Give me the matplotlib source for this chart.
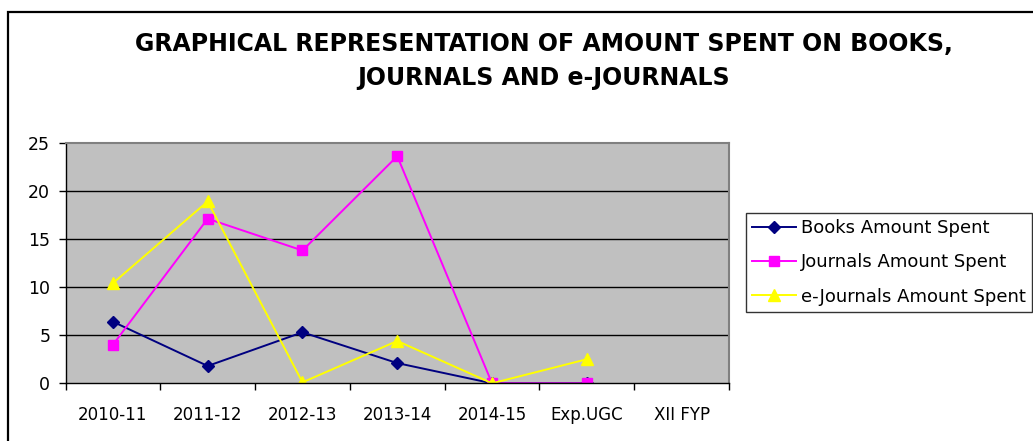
import matplotlib
matplotlib.use("Agg")
import matplotlib.pyplot as plt
import numpy as np
from matplotlib.patches import Rectangle

categories = ["2010-11", "2011-12", "2012-13", "2013-14", "2014-15", "Exp.UGC", "XII FYP"]
books = [6.4, 1.8, 5.3, 2.1, 0.0, 0.0, np.nan]
journals = [4.0, 17.1, 13.8, 23.6, 0.0, 0.0, np.nan]
ejournals = [10.4, 18.9, 0.1, 4.4, 0.0, 2.5, np.nan]
yticks = [0, 5, 10, 15, 20, 25]

plt.rcParams['font.family'] = ['DejaVu Sans']

W, H = 1033, 441
fig = plt.figure(figsize=(W / 100, H / 100), dpi=100)
fig.patch.set_facecolor('white')

# outer chart border
fig.patches.append(Rectangle((8 / W, -0.1), 1.2, 1 - 12 / H + 0.1, transform=fig.transFigure,
                             fill=False, edgecolor='black', linewidth=1.6, clip_on=False))

ax = fig.add_axes([65.5 / W, 1 - 383.3 / H, (729 - 65.5) / W, (383.3 - 142.7) / H])
ax.set_facecolor('#C0C0C0')

x = np.arange(len(categories))
ax.plot(x, books, color='#000080', marker='D', markersize=6.5, linewidth=1.4,
        label='Books Amount Spent')
ax.plot(x, journals, color='#FF00FF', marker='s', markersize=7, linewidth=1.4,
        label='Journals Amount Spent')
ax.plot(x, ejournals, color='#FFFF00', marker='^', markersize=9, linewidth=1.4,
        label='e-Journals Amount Spent')

ax.set_xlim(-0.5, len(categories) - 0.5)
ax.set_ylim(0, 25)
ax.set_yticks(yticks)
ax.set_xticks(x)
ax.set_xticklabels(categories)
ax.set_xticks(np.arange(-0.5, len(categories), 1.0), minor=True)
ax.tick_params(axis='x', which='major', length=0, pad=16, labelsize=12)
ax.tick_params(axis='x', which='minor', length=5, width=1, direction='out', color='black')
ax.tick_params(axis='y', length=5, width=1, direction='out', pad=6, labelsize=12.5, color='black')

for yv in yticks[1:-1]:
    ax.axhline(yv, color='black', linewidth=1, zorder=1)

for s in ['left', 'bottom']:
    ax.spines[s].set_color('black')
    ax.spines[s].set_linewidth(1)
for s in ['top', 'right']:
    ax.spines[s].set_color('#808080')
    ax.spines[s].set_linewidth(1.5)

fig.text(544 / W, 1 - 61 / H, "GRAPHICAL REPRESENTATION OF AMOUNT SPENT ON BOOKS,\nJOURNALS AND e-JOURNALS",
         ha='center', va='center', fontsize=17, fontweight='bold', linespacing=1.5)

leg = fig.legend(loc='upper left', bbox_to_anchor=(746 / W, 1 - 212.7 / H),
                 fontsize=13, frameon=True, fancybox=False, shadow=False,
                 handlelength=2.4, handletextpad=0.3, labelspacing=0.9,
                 borderpad=0.35, borderaxespad=0)
leg.get_frame().set_edgecolor('black')
leg.get_frame().set_linewidth(1)

fig.savefig('out.png', dpi=100)
